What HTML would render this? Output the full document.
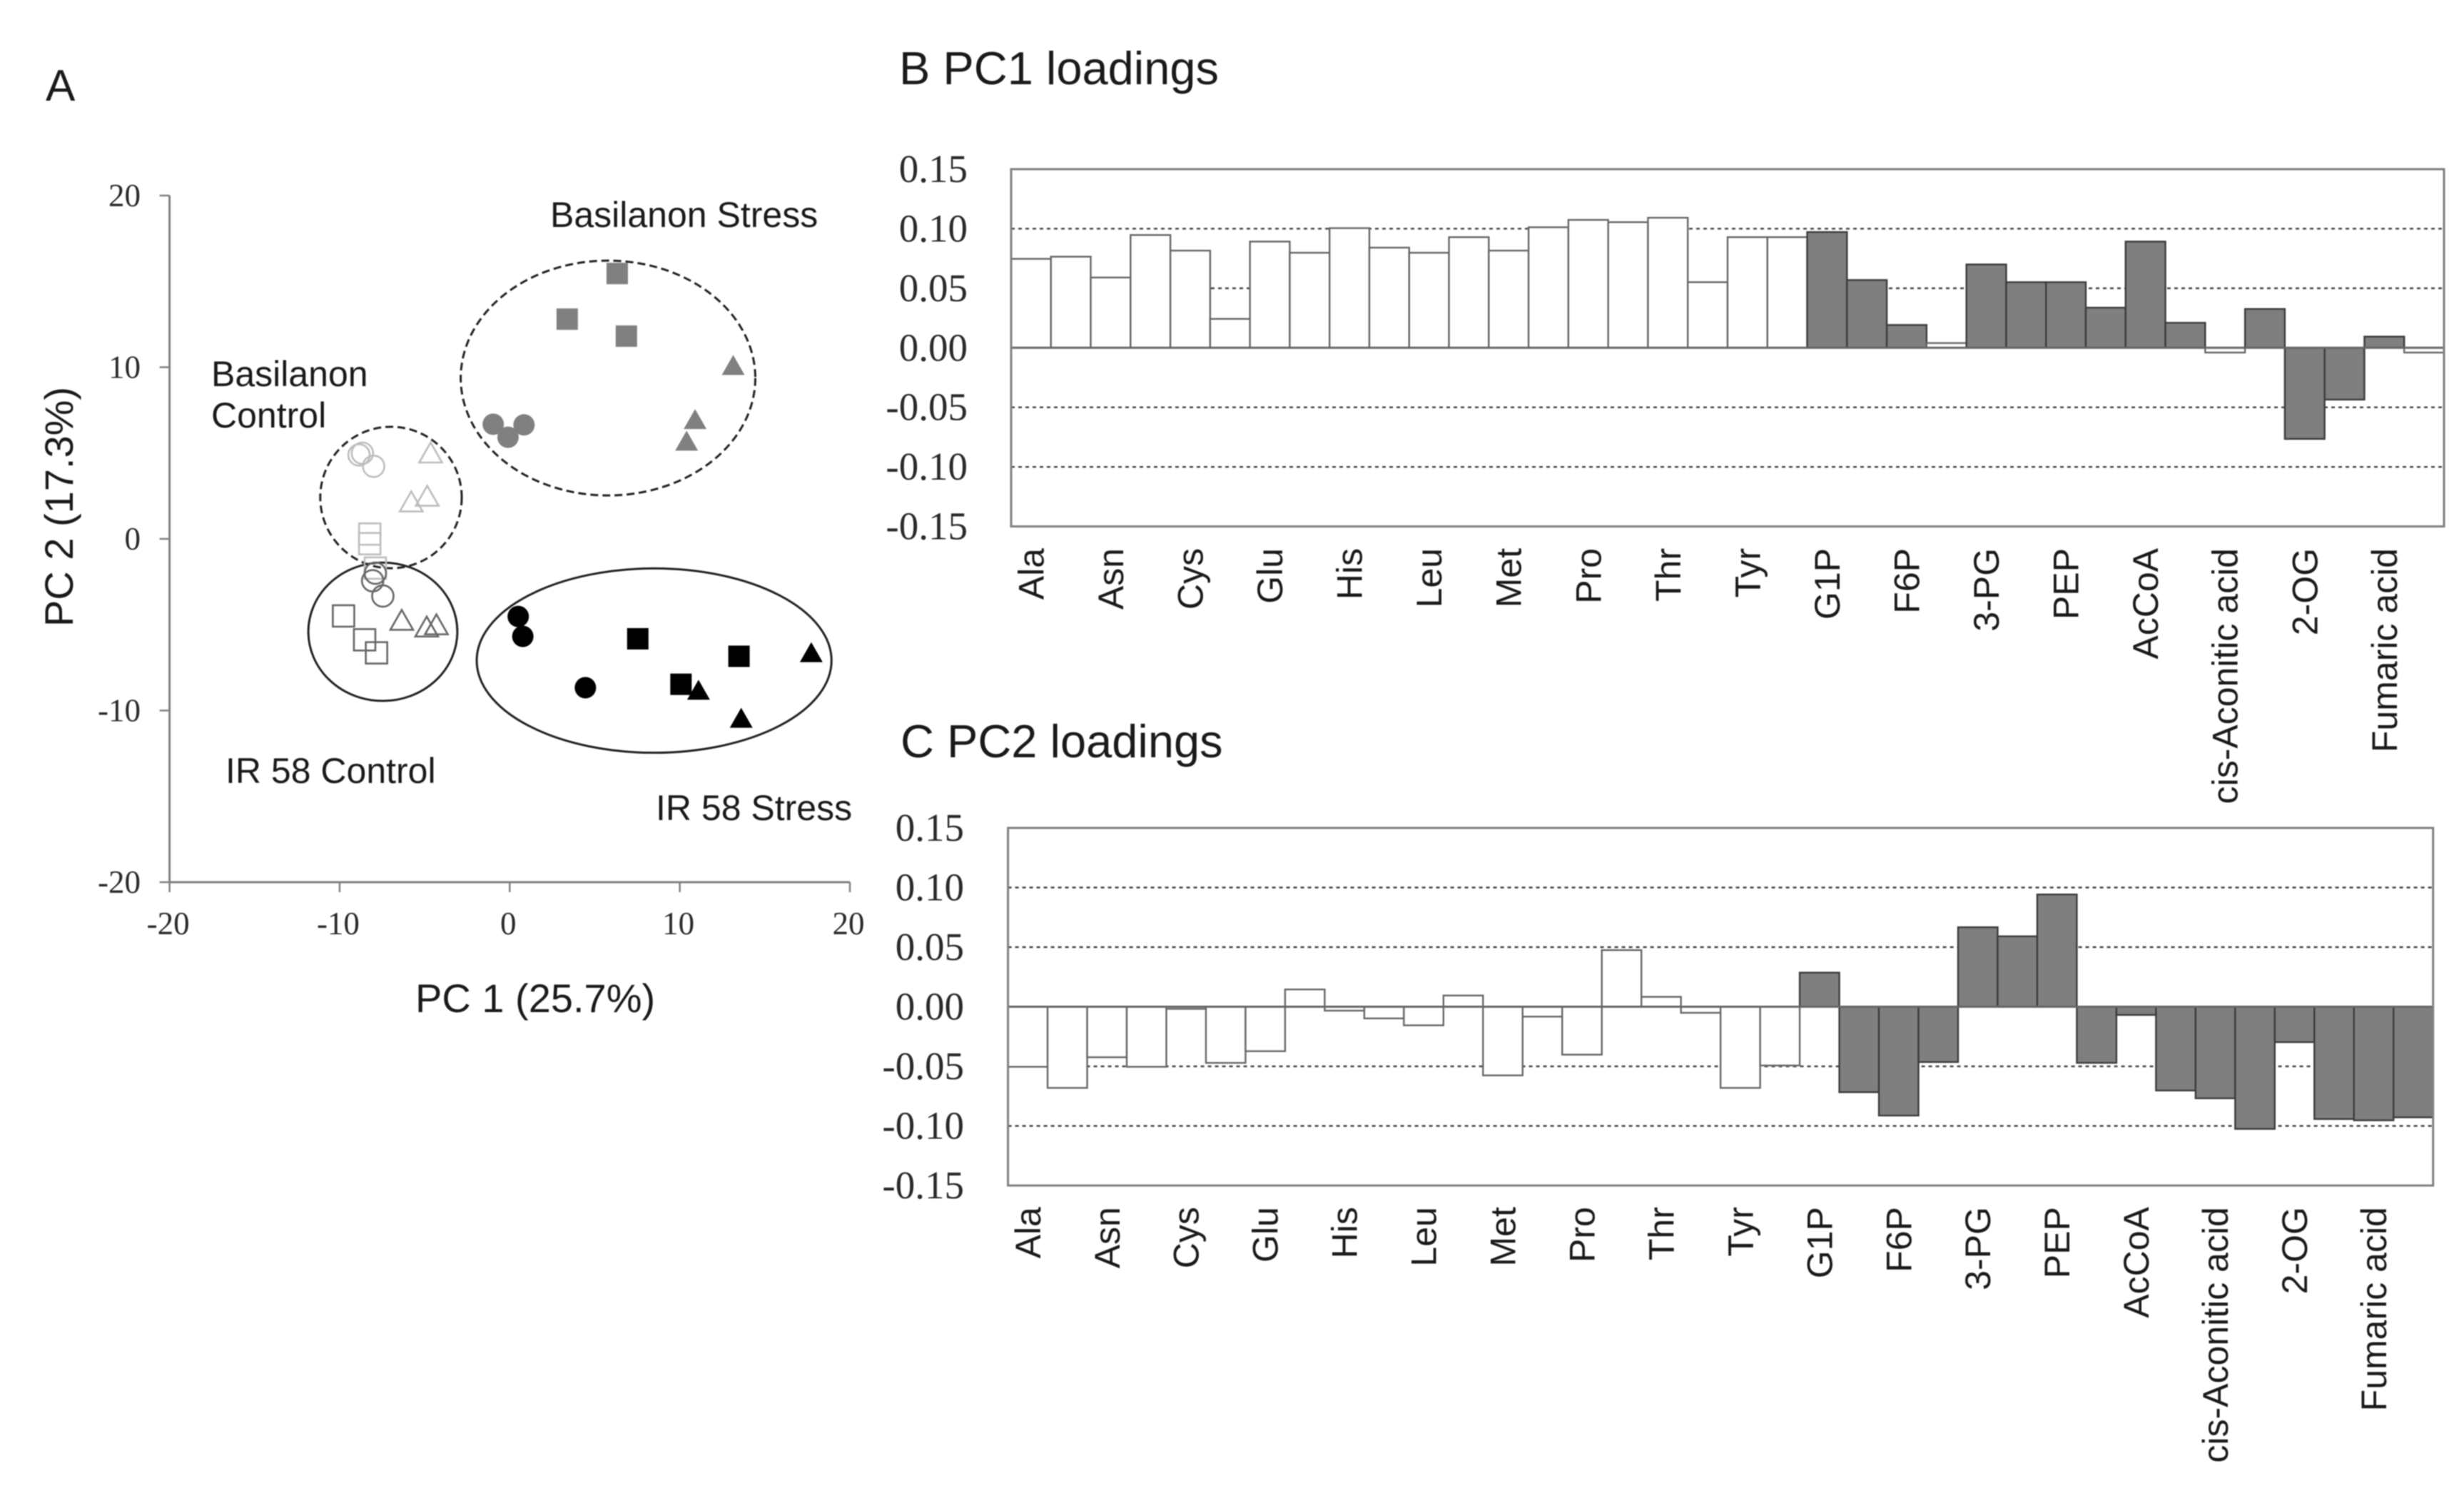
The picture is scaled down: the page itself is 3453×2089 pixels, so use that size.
<!DOCTYPE html>
<html>
<head>
<meta charset="utf-8">
<title>PCA scores and loadings</title>
<style>
html,body{margin:0;padding:0;background:#fff;width:3453px;height:2089px;overflow:hidden}
svg{display:block;filter:blur(0.9px)}
.sans{font-family:"Liberation Sans",sans-serif;fill:#1a1a1a}
.serif{font-family:"Liberation Serif",serif;fill:#2a2a2a}
</style>
</head>
<body>
<svg id="figure" xmlns="http://www.w3.org/2000/svg" width="3453" height="2089" viewBox="0 0 3453 2089">
  <rect x="0" y="0" width="3453" height="2089" fill="#fff"/>
  <text class="sans" x="64" y="141" font-size="62">A</text>
  <text class="sans" x="1260" y="118" font-size="65">B PC1 loadings</text>
  <text class="sans" x="1262" y="1061" font-size="65">C PC2 loadings</text>
  <text class="sans" x="582" y="1418" font-size="56">PC 1 (25.7%)</text>
  <text class="sans" x="102" y="710" font-size="56" text-anchor="middle" transform="rotate(-90 102 710)">PC 2 (17.3%)</text>
  <text class="sans" x="771" y="318" font-size="50">Basilanon Stress</text>
  <text class="sans" x="296" y="541" font-size="50">Basilanon</text>
  <text class="sans" x="296" y="599" font-size="50">Control</text>
  <text class="sans" x="316" y="1097" font-size="50">IR 58 Control</text>
  <text class="sans" x="919" y="1149" font-size="50">IR 58 Stress</text>
  <g id="scatter"></g>
  <g id="chartB"></g>
  <g id="chartC"></g>
</svg>
<script>
// ---- Score plot data ----
const scatterTicks = ['-20', '-10', '0', '10', '20'];
const basilanonStressSquares = [[6.32, 15.46], [3.38, 12.8], [6.86, 11.81]];
const basilanonStressCircles = [[-0.97, 6.68], [-0.1, 5.92], [0.84, 6.64]];
const basilanonStressTriangles = [[13.14, 10.09], [10.9, 6.94], [10.4, 5.68]];
const basilanonControlSquares = [[-8.23, 0.28], [-8.23, -0.28], [-7.9, -1.7]];
const basilanonControlCircles = [[-8.66, 4.99], [-8.86, 4.89], [-8.0, 4.23]];
const basilanonControlTriangles = [[-4.65, 4.99], [-4.85, 2.47], [-5.79, 2.14]];
const irControlSquares = [[-9.77, -4.49], [-8.53, -5.88], [-7.83, -6.64]];
const irControlCircles = [[-7.9, -2.0], [-8.06, -2.44], [-7.46, -3.33]];
const irControlTriangles = [[-6.35, -4.76], [-4.88, -5.15], [-4.31, -5.02]];
const irStressSquares = [[7.53, -5.82], [10.07, -8.47], [13.48, -6.84]];
const irStressCircles = [[0.5, -4.52], [0.77, -5.68], [4.45, -8.67]];
const irStressTriangles = [[17.73, -6.64], [11.1, -8.83], [13.61, -10.46]];
// cluster outlines: centre x, centre y, radius x, radius y (data units)
const clusterBasilanonStress = [5.78, 9.37, 8.66, 6.84];
const clusterBasilanonControl = [-6.98, 2.41, 4.16, 4.12];
const clusterIrControl = [-7.46, -5.41, 4.38, 4.03];
const clusterIrStress = [8.49, -7.09, 10.43, 5.37];

// ---- Loadings data ----
const loadingLabels = ['Ala', 'Asn', 'Cys', 'Glu', 'His', 'Leu', 'Met', 'Pro', 'Thr', 'Tyr', 'G1P', 'F6P', '3-PG', 'PEP', 'AcCoA', 'cis-Aconitic acid', '2-OG', 'Fumaric acid'];
const loadingTicks = ['0.15', '0.10', '0.05', '0.00', '-0.05', '-0.10', '-0.15'];
const pc1Values = [0.0747, 0.0765, 0.059, 0.0947, 0.0816, 0.0243, 0.0892, 0.0798, 0.1005, 0.0841, 0.0798, 0.0929, 0.0816, 0.1012, 0.1074, 0.1055, 0.1092, 0.0551, 0.0929, 0.0929, 0.0972, 0.0569, 0.0192, 0.004, 0.07, 0.0551, 0.0551, 0.0337, 0.0892, 0.021, -0.004, 0.0326, -0.0765, -0.0435, 0.0094, -0.004];
const pc2Values = [-0.0504, -0.0681, -0.0424, -0.0504, -0.0018, -0.0471, -0.0373, 0.0145, -0.0033, -0.0098, -0.0156, 0.0094, -0.0576, -0.0083, -0.0402, 0.0475, 0.0083, -0.0051, -0.0681, -0.0493, 0.0286, -0.0717, -0.0913, -0.0464, 0.0667, 0.0591, 0.0942, -0.0471, -0.0069, -0.0703, -0.0768, -0.1025, -0.0297, -0.0942, -0.0953, -0.0928];
// 1 = filled (metabolite) bar, 0 = open bar
const pc1Filled = [0,0,0,0,0,0,0,0,0,0,0,0,0,0,0,0,0,0,0,0,1,1,1,0,1,1,1,1,1,1,0,1,1,1,1,0];
const pc2Filled = [0,0,0,0,0,0,0,0,0,0,0,0,0,0,0,0,0,0,0,0,1,1,1,1,1,1,1,1,1,1,1,1,1,1,1,1];

const NS = 'http://www.w3.org/2000/svg';
function mk(parent, tag, attrs, text) {
  const el = document.createElementNS(NS, tag);
  for (const k in attrs) el.setAttribute(k, attrs[k]);
  if (text !== undefined) el.textContent = text;
  parent.appendChild(el);
  return el;
}

// ---- Score plot ----
const scatterG = document.getElementById('scatter');
const sx = v => 237.6 + (v + 20) * (1191 - 237.6) / 40;
const sy = v => 274 + (20 - v) * (1236 - 274) / 40;

function drawEllipse(c, dashed, name) {
  const e = mk(scatterG, 'ellipse', {
    cx: sx(c[0]), cy: sy(c[1]),
    rx: sx(c[2]) - sx(0), ry: sy(0) - sy(c[3]),
    fill: 'none', stroke: '#222', 'stroke-width': 3,
    'stroke-dasharray': dashed ? '11 6' : 'none'
  });
  
  
}

function drawPoints(points, shape, fill, stroke, name) {
  points.forEach(p => {
    const x = sx(p[0]), y = sy(p[1]);
    const sw = fill === 'none' ? 2.6 : 0;
    let m;
    if (shape === 'square') {
      m = mk(scatterG, 'rect', { x: x - 15, y: y - 15, width: 30, height: 30, fill: fill, stroke: stroke, 'stroke-width': sw });
    } else if (shape === 'circle') {
      m = mk(scatterG, 'circle', { cx: x, cy: y, r: 15, fill: fill, stroke: stroke, 'stroke-width': sw });
    } else {
      m = mk(scatterG, 'polygon', { points: (x - 16) + ',' + (y + 13) + ' ' + (x + 16) + ',' + (y + 13) + ' ' + x + ',' + (y - 15), fill: fill, stroke: stroke, 'stroke-width': sw });
    }
    
    
  });
}

const scatterAxes = mk(scatterG, 'path', {
  d: 'M' + sx(-20) + ' ' + sy(20) + 'V' + sy(-20) + 'H' + sx(20),
  fill: 'none', stroke: '#808080', 'stroke-width': 3
});



scatterTicks.forEach(t => {
  const v = parseFloat(t);
  const yTick = mk(scatterG, 'line', { x1: sx(-20) - 14, x2: sx(-20), y1: sy(v), y2: sy(v), stroke: '#808080', 'stroke-width': 2.5 });
  
  
  const xTick = mk(scatterG, 'line', { x1: sx(v), x2: sx(v), y1: sy(-20), y2: sy(-20) + 14, stroke: '#808080', 'stroke-width': 2.5 });
  
  
  const yLabel = mk(scatterG, 'text', { x: 197, y: sy(v) + 15, 'font-size': 45, 'text-anchor': 'end', class: 'serif' }, t);
  
  
  const xLabel = mk(scatterG, 'text', { x: sx(v) - 2, y: 1309, 'font-size': 45, 'text-anchor': 'middle', class: 'serif' }, t);
  
  
});

drawEllipse(clusterBasilanonStress, true, 'cluster-basilanon-stress');
drawEllipse(clusterBasilanonControl, true, 'cluster-basilanon-control');
drawEllipse(clusterIrControl, false, 'cluster-ir58-control');
drawEllipse(clusterIrStress, false, 'cluster-ir58-stress');

drawPoints(basilanonStressSquares, 'square', '#808080', 'none', 'point-basilanon-stress-square');
drawPoints(basilanonStressCircles, 'circle', '#808080', 'none', 'point-basilanon-stress-circle');
drawPoints(basilanonStressTriangles, 'triangle', '#808080', 'none', 'point-basilanon-stress-triangle');
drawPoints(basilanonControlSquares, 'square', 'none', '#bdbdbd', 'point-basilanon-control-square');
drawPoints(basilanonControlCircles, 'circle', 'none', '#bdbdbd', 'point-basilanon-control-circle');
drawPoints(basilanonControlTriangles, 'triangle', 'none', '#bdbdbd', 'point-basilanon-control-triangle');
drawPoints(irControlSquares, 'square', 'none', '#666', 'point-ir58-control-square');
drawPoints(irControlCircles, 'circle', 'none', '#666', 'point-ir58-control-circle');
drawPoints(irControlTriangles, 'triangle', 'none', '#666', 'point-ir58-control-triangle');
drawPoints(irStressSquares, 'square', '#000', 'none', 'point-ir58-stress-square');
drawPoints(irStressCircles, 'circle', '#000', 'none', 'point-ir58-stress-circle');
drawPoints(irStressTriangles, 'triangle', '#000', 'none', 'point-ir58-stress-triangle');

// ---- Loadings bar charts ----
function drawLoadings(g, values, filled, left, right, top, bottom, labelTop, tickRight, prefix) {
  const xAt = i => left + i * (right - left) / values.length;
  const yAt = v => top + (0.15 - v) * (bottom - top) / 0.3;

  loadingTicks.forEach(t => {
    const v = parseFloat(t);
    const label = mk(g, 'text', { x: tickRight, y: yAt(v) + 18, 'font-size': 55, 'text-anchor': 'end', class: 'serif' }, t);
    
    
    if (Math.abs(v) > 0.001 && Math.abs(v) < 0.14) {
      const grid = mk(g, 'line', { x1: left, x2: right, y1: yAt(v), y2: yAt(v), stroke: '#444', 'stroke-width': 2.4, 'stroke-dasharray': '5 5' });
      
      
    }
  });

  values.forEach((v, i) => {
    const y0 = yAt(Math.max(v, 0)), y1 = yAt(Math.min(v, 0));
    const bar = mk(g, 'rect', {
      x: xAt(i), y: y0, width: xAt(i + 1) - xAt(i), height: y1 - y0,
      fill: filled[i] ? '#7f7f7f' : '#fff',
      stroke: filled[i] ? '#3c3c3c' : '#666', 'stroke-width': 2.4
    });
    
    
  });

  const zero = mk(g, 'line', { x1: left, x2: right, y1: yAt(0), y2: yAt(0), stroke: '#666', 'stroke-width': 3 });
  
  

  const frame = mk(g, 'rect', { x: left, y: top, width: right - left, height: bottom - top, fill: 'none', stroke: '#808080', 'stroke-width': 3 });
  
  

  loadingLabels.forEach((name, k) => {
    const cx = (xAt(k * 2) + xAt(k * 2 + 1)) / 2 + 17.5;
    const label = mk(g, 'text', { x: cx, y: labelTop, 'font-size': 50, 'text-anchor': 'end', class: 'sans', transform: 'rotate(-90 ' + cx + ' ' + labelTop + ')' }, name);
    
    
  });
}

drawLoadings(document.getElementById('chartB'), pc1Values, pc1Filled, 1417, 3425, 237, 737.6, 768, 1356, 'pc1');
drawLoadings(document.getElementById('chartC'), pc2Values, pc2Filled, 1412.6, 3409.7, 1160, 1661, 1691, 1351, 'pc2');
</script>
</body>
</html>
